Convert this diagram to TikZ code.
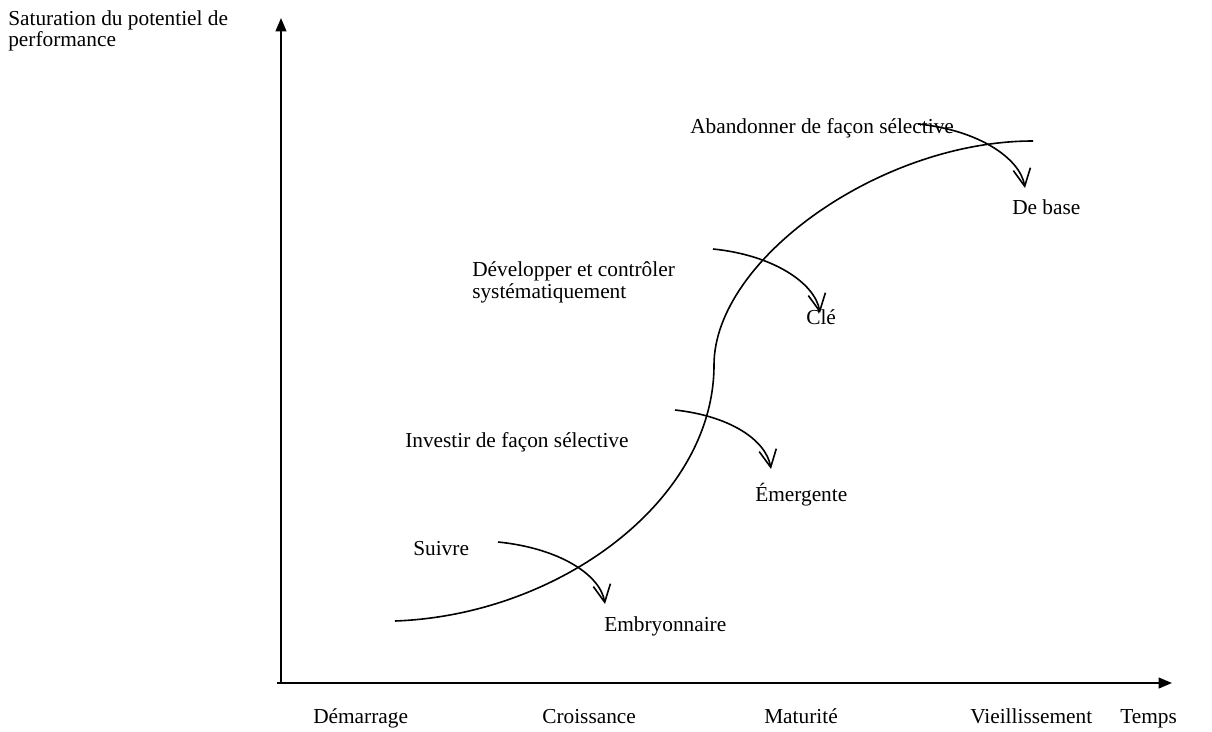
\documentclass[tikz,border=0pt]{standalone}
\usepackage{fontspec}
\setmainfont{Liberation Serif}
\usetikzlibrary{arrows.meta}
\tikzset{
  lbl/.style={anchor=base west, inner sep=0pt, font=\fontsize{16}{19}\selectfont},
  axis/.style={line width=1.5pt, -{Triangle[length=10pt,width=8pt]}},
  curve/.style={line width=1.2pt},
  move/.style={line width=1.2pt, -{Straight Barb[length=13pt,width=13pt,line width=1.2pt]}},
}
\begin{document}
\begin{tikzpicture}[x=0.75pt,y=-0.75pt]
\useasboundingbox (0,0) rectangle (1212,731);

% axes
\coordinate (origin) at (281,683);
\coordinate (ytop) at (281,18);
\coordinate (xstart) at (277,683);
\coordinate (xend) at (1172,683);
\draw[axis] (origin) -- (ytop);
\draw[axis] (xstart) -- (xend);

% life cycle curve
\coordinate (c0) at (395,621);
\coordinate (c1) at (714,365);
\coordinate (c2) at (1033,141);
\draw[curve] (c0) .. controls (560,615) and (714,500) .. (c1)
                 .. controls (714,260) and (880,141) .. (c2);

% strategic moves
\coordinate (s1) at (498,542);  \coordinate (e1) at (605,604);
\coordinate (s2) at (675,410);  \coordinate (e2) at (771,469);
\coordinate (s3) at (713,249);  \coordinate (e3) at (820,313);
\coordinate (s4) at (918,124);  \coordinate (e4) at (1025,188);
\draw[move] (s1) .. controls ++(60,6) and ++(-5,-30) .. (e1);
\draw[move] (s2) .. controls ++(55,6) and ++(-5,-29) .. (e2);
\draw[move] (s3) .. controls ++(60,6) and ++(-5,-30) .. (e3);
\draw[move] (s4) .. controls ++(60,6) and ++(-5,-30) .. (e4);

% labels
\node[lbl] (ylab1) at (8,26) {Saturation du potentiel de};
\node[lbl] (ylab2) at (8,47) {performance};
\node[lbl] (aband) at (690,133) {Abandonner de façon sélective};
\node[lbl] (base) at (1012,214) {De base};
\node[lbl] (devel1) at (472,276) {Développer et contrôler};
\node[lbl] (devel2) at (472,298) {systématiquement};
\node[lbl] (cle) at (806,324) {Clé};
\node[lbl] (invest) at (405,447) {Investir de façon sélective};
\node[lbl] (emerg) at (755,501) {Émergente};
\node[lbl] (suivre) at (413,555) {Suivre};
\node[lbl] (embry) at (604,631) {Embryonnaire};

\node[lbl] (demar) at (313,723) {Démarrage};
\node[lbl] (crois) at (542,723) {Croissance};
\node[lbl] (matur) at (764,723) {Maturité};
\node[lbl] (vieil) at (970,723) {Vieillissement};
\node[lbl] (temps) at (1120,723) {Temps};
\end{tikzpicture}
\end{document}
